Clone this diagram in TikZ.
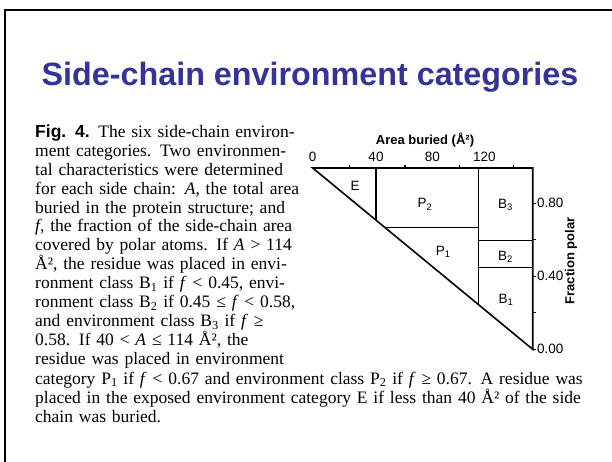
\documentclass[tikz,border=0pt]{standalone}
\usepackage{fontspec}
\setmainfont{Liberation Serif}
\setsansfont{Liberation Sans}
\usepackage{xcolor}
\usetikzlibrary{positioning, calc}
\definecolor{titleblue}{HTML}{333399}

% one justified line of the caption
\newcommand{\jline}[1]{\makebox[\linewidth][s]{#1}}

\begin{document}
\begin{tikzpicture}[x=1pt, y=-1pt,
    axis/.style={line width=1.6pt, line join=miter},
    axtick/.style={line width=1.2pt},
    numlbl/.style={inner sep=0, font=\sffamily\fontsize{13.5}{15}\selectfont},
    axtitle/.style={inner sep=0, font=\sffamily\bfseries\fontsize{13}{15}\selectfont},
    cell/.style={inner sep=0, font=\sffamily\fontsize{13.5}{15}\selectfont},
    capstyle/.style={inner sep=0, anchor=base west, align=left,
        font=\fontsize{17.5}{18.9}\selectfont}]

    \useasboundingbox (0,0) rectangle (612,462);

    % Slide frame (top and left edges only)
    \draw[line width=2pt] (5,462) -- (5,10) -- (612,10);

    % Title
    \node[anchor=base west, inner sep=0, text=titleblue,
        font=\sffamily\bfseries\fontsize{32.3}{38}\selectfont] (title) at (41.5,86)
        {Side-chain environment categories};

    % Caption: narrow column beside the diagram
    \node[capstyle, text width=254pt] (capcol) at (35,137.5) {%
        \jline{\textsf{\bfseries Fig. 4.} The six side-chain environ-}\\
        \jline{ment categories. Two environmen-}\\
        \jline{tal characteristics were determined}\\
        \jline{for each side chain: \textit{A}, the total area}\\
        \jline{buried in the protein structure; and}\\
        \jline{\textit{f}, the fraction of the side-chain area}\\
        \jline{covered by polar atoms. If \textit{A} > 114}\\
        \jline{Å², the residue was placed in envi-}\\
        \jline{ronment class B\textsubscript{1} if \textit{f} < 0.45, envi-}\\
        \jline{ronment class B\textsubscript{2} if 0.45 ≤ \textit{f} < 0.58,}\\
        \jline{and environment class B\textsubscript{3} if \textit{f} ≥}\\
        \jline{0.58. If 40 < \textit{A} ≤ 114 Å², the}\\
        \jline{residue was placed in environment}};

    % Caption: full width lines below
    \node[capstyle, text width=548pt] (capfull) at (35,384.3) {%
        \jline{category P\textsubscript{1} if \textit{f} < 0.67 and environment class P\textsubscript{2} if \textit{f} ≥ 0.67. A residue was}\\
        \jline{placed in the exposed environment category E if less than 40 Å² of the side}\\
        chain was buried.};

    % Diagram outline
    \coordinate (o)  at (312.7,168);
    \coordinate (tr) at (532.7,168);
    \coordinate (br) at (532.7,349.3);
    \draw[axis] (o) -- (tr) -- (br) -- cycle;

    % Class boundaries
    \draw[axis] (376,168) -- (376,220.2);
    \draw[axis] (478.3,168) -- (478.3,304.5);
    \draw[axis] (384.9,227.5) -- (478.3,227.5);
    \draw[axis] (478.3,240.5) -- (532.7,240.5);
    \draw[axis] (478.3,267.3) -- (532.7,267.3);

    % Ticks
    \foreach \x in {349.3,405,459.3,513.3} {
        \draw[axtick] (\x,168) -- (\x,164.8);
    }
    \foreach \y in {203.3,239.8,276.3,312.8,349.3} {
        \draw[axtick] (532.7,\y) -- (536,\y);
    }

    % Axis labels
    \foreach \val/\x in {0/312.7,40/376,80/432.3,120/484.3} {
        \node[numlbl] (top\val) at (\x,157) {\val};
    }
    \foreach \val/\y [count=\i] in {0.80/203.3,0.40/275.5,0.00/349.3} {
        \node[numlbl, anchor=west] (right\i) at (536.8,\y) {\val};
    }
    \node[axtitle] (areatitle) at (425,140) {Area buried (Å²)};
    \node[axtitle, rotate=90] (fractitle) at (571,261) {Fraction polar};

    % Environment classes
    \node[cell] (regE)  at (355,186)   {E};
    \node[cell] (regP2) at (425,204.3) {P\textsubscript{2}};
    \node[cell] (regP1) at (443.3,251.7) {P\textsubscript{1}};
    \node[cell] (regB3) at (505.5,205) {B\textsubscript{3}};
    \node[cell] (regB2) at (505.5,256.7) {B\textsubscript{2}};
    \node[cell] (regB1) at (506,300) {B\textsubscript{1}};

\end{tikzpicture}
\end{document}
